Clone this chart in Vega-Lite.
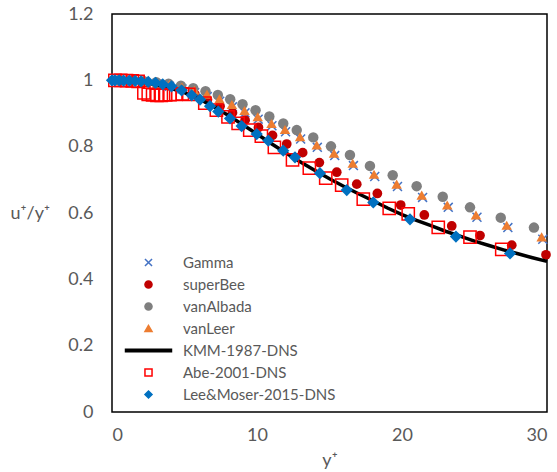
{
  "$schema": "https://vega.github.io/schema/vega-lite/v6.json",
  "autosize": {"type": "none"},
  "padding": {"left": 112, "top": 14, "right": 10, "bottom": 60},
  "width": 435,
  "height": 398,
  "background": "white",
  "config": {
    "view": {"stroke": "#000000", "strokeWidth": 1.5},
    "axis": {"grid": false, "domain": false, "ticks": false, "tickSize": 0, "labelFont": "Lato", "labelFontSize": 18, "labelColor": "#595959", "titleFont": "Lato", "titleFontSize": 18, "titleFontWeight": "normal", "titleColor": "#595959"},
    "legend": {"orient": "none", "legendX": 29, "legendY": 241, "padding": 0, "symbolSize": 50, "symbolStrokeWidth": 1.5, "symbolOpacity": 1, "labelFont": "Lato", "labelFontSize": 15, "labelColor": "#595959", "labelOffset": 27, "rowPadding": 6}
  },
  "data": {"values": [
    {"s":"Gamma","x":0.46,"y":1.0},{"s":"Gamma","x":1.37,"y":0.998},{"s":"Gamma","x":2.24,"y":0.994},{"s":"Gamma","x":3.11,"y":0.989},{"s":"Gamma","x":3.97,"y":0.982},{"s":"Gamma","x":4.83,"y":0.974},{"s":"Gamma","x":5.70,"y":0.963},{"s":"Gamma","x":6.57,"y":0.951},{"s":"Gamma","x":7.43,"y":0.937},{"s":"Gamma","x":8.30,"y":0.920},{"s":"Gamma","x":9.17,"y":0.902},{"s":"Gamma","x":10.08,"y":0.883},{"s":"Gamma","x":11.03,"y":0.863},{"s":"Gamma","x":11.97,"y":0.845},{"s":"Gamma","x":13.01,"y":0.823},{"s":"Gamma","x":14.16,"y":0.798},{"s":"Gamma","x":15.36,"y":0.773},{"s":"Gamma","x":16.65,"y":0.743},{"s":"Gamma","x":18.12,"y":0.710},{"s":"Gamma","x":19.69,"y":0.680},{"s":"Gamma","x":21.42,"y":0.647},{"s":"Gamma","x":23.19,"y":0.617},{"s":"Gamma","x":25.17,"y":0.587},{"s":"Gamma","x":27.30,"y":0.556},{"s":"Gamma","x":29.71,"y":0.521},
    {"s":"superBee","x":0.46,"y":1.0},{"s":"superBee","x":1.38,"y":0.999},{"s":"superBee","x":2.24,"y":0.996},{"s":"superBee","x":3.11,"y":0.991},{"s":"superBee","x":3.98,"y":0.983},{"s":"superBee","x":4.85,"y":0.972},{"s":"superBee","x":5.71,"y":0.958},{"s":"superBee","x":6.58,"y":0.942},{"s":"superBee","x":7.45,"y":0.922},{"s":"superBee","x":8.31,"y":0.902},{"s":"superBee","x":9.18,"y":0.880},{"s":"superBee","x":10.1,"y":0.858},{"s":"superBee","x":11.07,"y":0.834},{"s":"superBee","x":12.05,"y":0.808},{"s":"superBee","x":13.15,"y":0.782},{"s":"superBee","x":14.30,"y":0.752},{"s":"superBee","x":15.50,"y":0.723},{"s":"superBee","x":16.88,"y":0.687},{"s":"superBee","x":18.30,"y":0.659},{"s":"superBee","x":19.91,"y":0.624},{"s":"superBee","x":21.54,"y":0.594},{"s":"superBee","x":23.43,"y":0.561},{"s":"superBee","x":25.38,"y":0.532},{"s":"superBee","x":27.57,"y":0.503},{"s":"superBee","x":29.93,"y":0.474},
    {"s":"vanAlbada","x":0.45,"y":1.0},{"s":"vanAlbada","x":1.35,"y":0.999},{"s":"vanAlbada","x":2.2,"y":0.997},{"s":"vanAlbada","x":3.05,"y":0.994},{"s":"vanAlbada","x":3.9,"y":0.990},{"s":"vanAlbada","x":4.75,"y":0.984},{"s":"vanAlbada","x":5.6,"y":0.976},{"s":"vanAlbada","x":6.45,"y":0.967},{"s":"vanAlbada","x":7.3,"y":0.956},{"s":"vanAlbada","x":8.15,"y":0.943},{"s":"vanAlbada","x":9.0,"y":0.928},{"s":"vanAlbada","x":9.9,"y":0.910},{"s":"vanAlbada","x":10.85,"y":0.891},{"s":"vanAlbada","x":11.81,"y":0.870},{"s":"vanAlbada","x":12.74,"y":0.850},{"s":"vanAlbada","x":13.88,"y":0.828},{"s":"vanAlbada","x":15.10,"y":0.801},{"s":"vanAlbada","x":16.41,"y":0.775},{"s":"vanAlbada","x":17.79,"y":0.742},{"s":"vanAlbada","x":19.36,"y":0.714},{"s":"vanAlbada","x":21.01,"y":0.681},{"s":"vanAlbada","x":22.81,"y":0.649},{"s":"vanAlbada","x":24.69,"y":0.617},{"s":"vanAlbada","x":26.81,"y":0.586},{"s":"vanAlbada","x":29.10,"y":0.556},
    {"s":"vanLeer","x":0.46,"y":1.0},{"s":"vanLeer","x":1.37,"y":0.999},{"s":"vanLeer","x":2.23,"y":0.996},{"s":"vanLeer","x":3.1,"y":0.992},{"s":"vanLeer","x":3.96,"y":0.987},{"s":"vanLeer","x":4.82,"y":0.980},{"s":"vanLeer","x":5.68,"y":0.970},{"s":"vanLeer","x":6.55,"y":0.958},{"s":"vanLeer","x":7.41,"y":0.944},{"s":"vanLeer","x":8.27,"y":0.927},{"s":"vanLeer","x":9.14,"y":0.909},{"s":"vanLeer","x":10.05,"y":0.890},{"s":"vanLeer","x":11.0,"y":0.870},{"s":"vanLeer","x":11.93,"y":0.852},{"s":"vanLeer","x":12.97,"y":0.830},{"s":"vanLeer","x":14.12,"y":0.805},{"s":"vanLeer","x":15.31,"y":0.780},{"s":"vanLeer","x":16.60,"y":0.750},{"s":"vanLeer","x":18.07,"y":0.717},{"s":"vanLeer","x":19.63,"y":0.687},{"s":"vanLeer","x":21.36,"y":0.654},{"s":"vanLeer","x":23.12,"y":0.624},{"s":"vanLeer","x":25.10,"y":0.594},{"s":"vanLeer","x":27.22,"y":0.563},{"s":"vanLeer","x":29.63,"y":0.528},
    {"s":"KMM-1987-DNS","x":0,"y":1.0},{"s":"KMM-1987-DNS","x":1,"y":0.998},{"s":"KMM-1987-DNS","x":2,"y":0.994},{"s":"KMM-1987-DNS","x":3,"y":0.987},{"s":"KMM-1987-DNS","x":4,"y":0.977},{"s":"KMM-1987-DNS","x":5,"y":0.963},{"s":"KMM-1987-DNS","x":6,"y":0.944},{"s":"KMM-1987-DNS","x":7,"y":0.921},{"s":"KMM-1987-DNS","x":8,"y":0.895},{"s":"KMM-1987-DNS","x":9,"y":0.867},{"s":"KMM-1987-DNS","x":10,"y":0.838},{"s":"KMM-1987-DNS","x":11,"y":0.809},{"s":"KMM-1987-DNS","x":12,"y":0.781},{"s":"KMM-1987-DNS","x":13,"y":0.754},{"s":"KMM-1987-DNS","x":14,"y":0.728},{"s":"KMM-1987-DNS","x":15,"y":0.703},{"s":"KMM-1987-DNS","x":16,"y":0.680},{"s":"KMM-1987-DNS","x":17,"y":0.658},{"s":"KMM-1987-DNS","x":18,"y":0.637},{"s":"KMM-1987-DNS","x":19,"y":0.615},{"s":"KMM-1987-DNS","x":20,"y":0.595},{"s":"KMM-1987-DNS","x":21,"y":0.578},{"s":"KMM-1987-DNS","x":22,"y":0.562},{"s":"KMM-1987-DNS","x":23,"y":0.545},{"s":"KMM-1987-DNS","x":24,"y":0.530},{"s":"KMM-1987-DNS","x":25,"y":0.515},{"s":"KMM-1987-DNS","x":26,"y":0.502},{"s":"KMM-1987-DNS","x":27,"y":0.489},{"s":"KMM-1987-DNS","x":28,"y":0.477},{"s":"KMM-1987-DNS","x":29,"y":0.465},{"s":"KMM-1987-DNS","x":30,"y":0.454},
    {"s":"Abe-2001-DNS","x":0.2,"y":1.0},{"s":"Abe-2001-DNS","x":0.6,"y":1.0},{"s":"Abe-2001-DNS","x":1.0,"y":0.999},{"s":"Abe-2001-DNS","x":1.4,"y":0.998},{"s":"Abe-2001-DNS","x":1.8,"y":0.997},{"s":"Abe-2001-DNS","x":2.2,"y":0.962},{"s":"Abe-2001-DNS","x":2.5,"y":0.958},{"s":"Abe-2001-DNS","x":2.8,"y":0.956},{"s":"Abe-2001-DNS","x":3.1,"y":0.955},{"s":"Abe-2001-DNS","x":3.4,"y":0.955},{"s":"Abe-2001-DNS","x":3.7,"y":0.956},{"s":"Abe-2001-DNS","x":4.0,"y":0.957},{"s":"Abe-2001-DNS","x":4.4,"y":0.958},{"s":"Abe-2001-DNS","x":4.85,"y":0.959},{"s":"Abe-2001-DNS","x":5.3,"y":0.958},{"s":"Abe-2001-DNS","x":6.4,"y":0.931},{"s":"Abe-2001-DNS","x":7.2,"y":0.910},{"s":"Abe-2001-DNS","x":8.0,"y":0.890},{"s":"Abe-2001-DNS","x":8.7,"y":0.870},{"s":"Abe-2001-DNS","x":9.5,"y":0.850},{"s":"Abe-2001-DNS","x":10.3,"y":0.832},{"s":"Abe-2001-DNS","x":11.2,"y":0.798},{"s":"Abe-2001-DNS","x":12.45,"y":0.760},{"s":"Abe-2001-DNS","x":13.61,"y":0.735},{"s":"Abe-2001-DNS","x":14.74,"y":0.705},{"s":"Abe-2001-DNS","x":15.84,"y":0.684},{"s":"Abe-2001-DNS","x":17.33,"y":0.642},{"s":"Abe-2001-DNS","x":19.12,"y":0.614},{"s":"Abe-2001-DNS","x":20.43,"y":0.597},{"s":"Abe-2001-DNS","x":22.50,"y":0.557},{"s":"Abe-2001-DNS","x":24.69,"y":0.527},{"s":"Abe-2001-DNS","x":26.88,"y":0.490},
    {"s":"Lee&Moser-2015-DNS","x":0,"y":1.0},{"s":"Lee&Moser-2015-DNS","x":0.2,"y":1.0},{"s":"Lee&Moser-2015-DNS","x":0.5,"y":1.0},{"s":"Lee&Moser-2015-DNS","x":0.8,"y":0.999},{"s":"Lee&Moser-2015-DNS","x":1.2,"y":0.999},{"s":"Lee&Moser-2015-DNS","x":1.6,"y":0.998},{"s":"Lee&Moser-2015-DNS","x":2.0,"y":0.997},{"s":"Lee&Moser-2015-DNS","x":2.5,"y":0.995},{"s":"Lee&Moser-2015-DNS","x":3.0,"y":0.992},{"s":"Lee&Moser-2015-DNS","x":3.5,"y":0.988},{"s":"Lee&Moser-2015-DNS","x":4.1,"y":0.982},{"s":"Lee&Moser-2015-DNS","x":4.8,"y":0.970},{"s":"Lee&Moser-2015-DNS","x":5.5,"y":0.955},{"s":"Lee&Moser-2015-DNS","x":6.07,"y":0.942},{"s":"Lee&Moser-2015-DNS","x":6.76,"y":0.922},{"s":"Lee&Moser-2015-DNS","x":7.33,"y":0.906},{"s":"Lee&Moser-2015-DNS","x":8.14,"y":0.885},{"s":"Lee&Moser-2015-DNS","x":8.94,"y":0.862},{"s":"Lee&Moser-2015-DNS","x":9.98,"y":0.838},{"s":"Lee&Moser-2015-DNS","x":10.78,"y":0.818},{"s":"Lee&Moser-2015-DNS","x":11.81,"y":0.788},{"s":"Lee&Moser-2015-DNS","x":12.62,"y":0.768},{"s":"Lee&Moser-2015-DNS","x":14.34,"y":0.720},{"s":"Lee&Moser-2015-DNS","x":16.19,"y":0.669},{"s":"Lee&Moser-2015-DNS","x":18.02,"y":0.632},{"s":"Lee&Moser-2015-DNS","x":20.55,"y":0.581},{"s":"Lee&Moser-2015-DNS","x":23.72,"y":0.529},{"s":"Lee&Moser-2015-DNS","x":27.45,"y":0.478}
  ]},
  "encoding": {
    "x": {"field": "x", "type": "quantitative", "scale": {"domain": [0, 30], "nice": false}, "axis": {"values": [0, 10, 20, 30], "title": "y⁺", "labelPadding": 14, "titlePadding": 7}},
    "y": {"field": "y", "type": "quantitative", "scale": {"domain": [0, 1.2], "nice": false}, "axis": {"values": [0, 0.2, 0.4, 0.6, 0.8, 1, 1.2], "format": "~g", "labelPadding": 19, "title": "u⁺/y⁺", "titleAngle": 0, "titleAlign": "left", "titleBaseline": "middle", "titleX": -102, "titleY": 199}}
  },
  "layer": [
    {"transform": [{"filter": "datum.s === 'Gamma'"}], "mark": {"type": "point", "filled": true, "opacity": 1, "size": 80, "strokeWidth": 1.5},
     "encoding": {"fill": {"field": "s", "type": "nominal", "scale": {"domain": ["Gamma","superBee","vanAlbada","vanLeer","KMM-1987-DNS","Abe-2001-DNS","Lee&Moser-2015-DNS"], "range": ["transparent","#C00000","#7F7F7F","#ED7D31","#000000","transparent","#0070C0"]}, "legend": {"title": null}},
                  "stroke": {"field": "s", "type": "nominal", "scale": {"domain": ["Gamma","superBee","vanAlbada","vanLeer","KMM-1987-DNS","Abe-2001-DNS","Lee&Moser-2015-DNS"], "range": ["#4472C4","#C00000","#7F7F7F","#ED7D31","#000000","#FF0000","#0070C0"]}, "legend": {"title": null}},
                  "shape": {"field": "s", "type": "nominal", "scale": {"domain": ["Gamma","superBee","vanAlbada","vanLeer","KMM-1987-DNS","Abe-2001-DNS","Lee&Moser-2015-DNS"], "range": ["M-1,-1L1,1M-1,1L1,-1","circle","circle","triangle-up","M-6.5,-0.35H6.5V0.35H-6.5Z","square","diamond"]}, "legend": {"title": null}}}},
    {"transform": [{"filter": "datum.s === 'superBee'"}], "mark": {"type": "point", "filled": true, "opacity": 1, "size": 95, "strokeWidth": 0},
     "encoding": {"fill": {"field": "s", "type": "nominal"}, "stroke": {"field": "s", "type": "nominal"}, "shape": {"field": "s", "type": "nominal"}}},
    {"transform": [{"filter": "datum.s === 'vanAlbada'"}], "mark": {"type": "point", "filled": true, "opacity": 1, "size": 110, "strokeWidth": 0},
     "encoding": {"fill": {"field": "s", "type": "nominal"}, "stroke": {"field": "s", "type": "nominal"}, "shape": {"field": "s", "type": "nominal"}}},
    {"transform": [{"filter": "datum.s === 'vanLeer'"}], "mark": {"type": "point", "filled": true, "opacity": 1, "size": 110, "strokeWidth": 0},
     "encoding": {"fill": {"field": "s", "type": "nominal"}, "stroke": {"field": "s", "type": "nominal"}, "shape": {"field": "s", "type": "nominal"}}},
    {"transform": [{"filter": "datum.s === 'KMM-1987-DNS'"}], "mark": {"type": "line", "strokeWidth": 3.5},
     "encoding": {"stroke": {"field": "s", "type": "nominal"}}},
    {"transform": [{"filter": "datum.s === 'Abe-2001-DNS'"}], "mark": {"type": "point", "filled": true, "opacity": 1, "size": 150, "strokeWidth": 1.5},
     "encoding": {"fill": {"field": "s", "type": "nominal"}, "stroke": {"field": "s", "type": "nominal"}, "shape": {"field": "s", "type": "nominal"}}},
    {"transform": [{"filter": "datum.s === 'Lee&Moser-2015-DNS'"}], "mark": {"type": "point", "filled": true, "opacity": 1, "size": 150, "strokeWidth": 0},
     "encoding": {"fill": {"field": "s", "type": "nominal"}, "stroke": {"field": "s", "type": "nominal"}, "shape": {"field": "s", "type": "nominal"}}}
  ]
}
